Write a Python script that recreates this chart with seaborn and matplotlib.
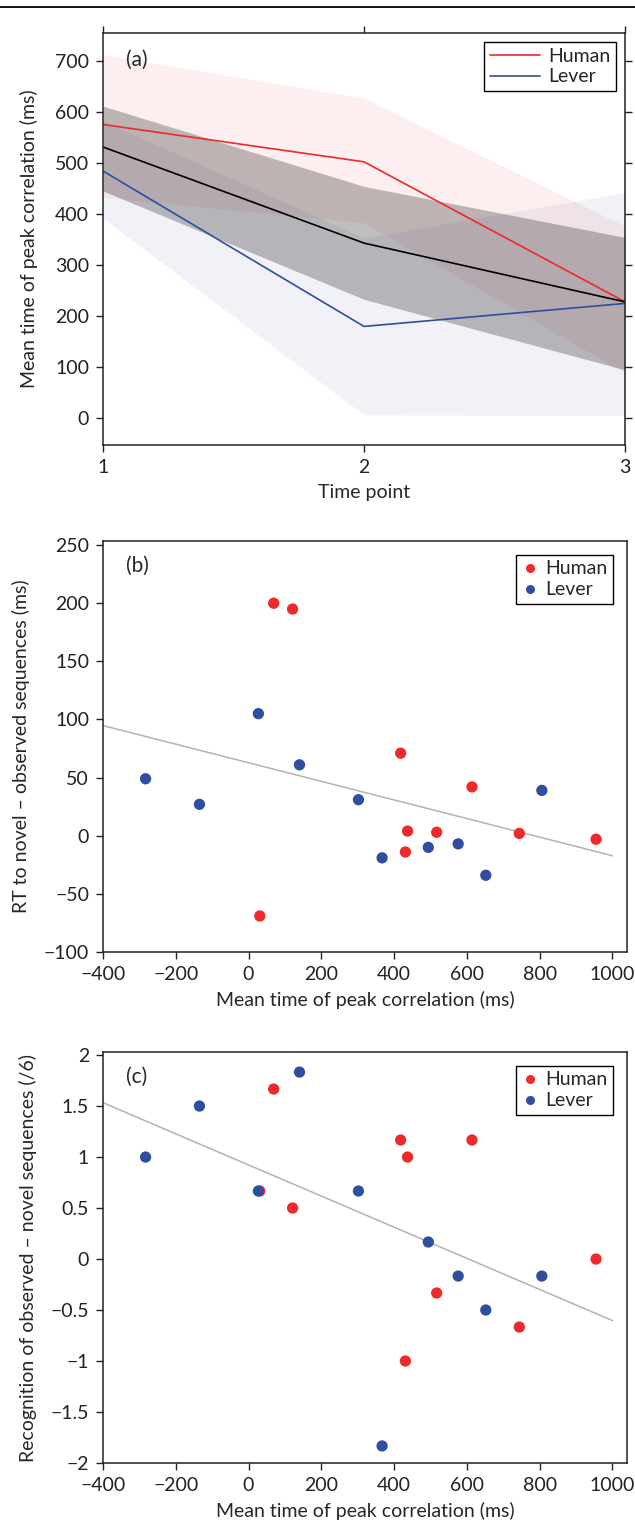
import numpy as np
import pandas as pd
import matplotlib
matplotlib.use("Agg")
import matplotlib.pyplot as plt
from matplotlib.lines import Line2D
import seaborn as sns

sns.set_theme(style="white")
plt.rcParams['font.family'] = ['Lato', 'DejaVu Sans']
plt.rcParams['axes.unicode_minus'] = True

# ---------------- Data ----------------
time_points = [1, 2, 3]
human_mean = [575, 502, 228]
human_upper = [712, 627, 376]
human_lower = [433, 383, 89]
lever_mean = [484, 180, 225]
lever_upper = [582, 353, 442]
lever_lower = [391, 7, 6]
all_mean = [531, 343, 228]
all_upper = [611, 454, 354]
all_lower = [445, 233, 95]

human_peak = [69, 121, 418, 614, 437, 517, 431, 744, 955, 31]
human_rt = [200, 195, 71, 42, 4, 3, -14, 2, -3, -69]
human_recog = [1.667, 0.5, 1.167, 1.167, 1.0, -0.333, -1.0, -0.667, 0.0, 0.667]

lever_peak = [-283, -135, 27, 140, 302, 367, 494, 576, 652, 806]
lever_rt = [49, 27, 105, 61, 31, -19, -10, -7, -34, 39]
lever_recog = [1.0, 1.5, 0.667, 1.833, 0.667, -1.833, 0.167, -0.167, -0.5, -0.167]

groups = ["Human", "Lever"]
RED = "#ee2a2a"
BLUE = "#2f4ea0"
palette = {"Human": RED, "Lever": BLUE}

scatter_df = pd.DataFrame({
    "peak": human_peak + lever_peak,
    "rt": human_rt + lever_rt,
    "recog": human_recog + lever_recog,
    "group": ["Human"] * len(human_peak) + ["Lever"] * len(lever_peak),
})

# ---------------- Figure ----------------
W, H = 635, 1525
fig = plt.figure(figsize=(W / 100, H / 100), dpi=100)

def frac_axes(left_px, top_px, right_px, bottom_px):
    return fig.add_axes([left_px / W, 1 - bottom_px / H,
                         (right_px - left_px) / W, (bottom_px - top_px) / H])

axA = frac_axes(103, 33, 625, 445)
axB = frac_axes(103, 541, 627, 952)
axC = frac_axes(103, 1052, 627, 1463)

# separator line at top
fig.add_artist(Line2D([0, 1], [1 - 7 / H, 1 - 7 / H], color="black", lw=1.3,
                      transform=fig.transFigure))

FS = 14
TAG_FS = 15

def style_axes(ax, mirror=False):
    for s in ax.spines.values():
        s.set_visible(True)
        s.set_color("#222222")
        s.set_linewidth(1.1)
    ax.tick_params(direction="out", length=5, width=1, colors="#222222",
                   labelsize=FS, pad=5,
                   top=mirror, right=mirror, bottom=True, left=True)
    ax.grid(False)

# ---------------- Panel (a) ----------------
axA.fill_between(time_points, human_lower, human_upper, color=RED, alpha=0.075, lw=0)
axA.fill_between(time_points, lever_lower, lever_upper, color="#3a3aa0", alpha=0.07, lw=0)
axA.fill_between(time_points, all_lower, all_upper, color="black", alpha=0.25, lw=0)
sns.lineplot(x=time_points, y=human_mean, ax=axA, color=RED, lw=1.2, label="Human")
sns.lineplot(x=time_points, y=lever_mean, ax=axA, color=BLUE, lw=1.2, label="Lever")
sns.lineplot(x=time_points, y=all_mean, ax=axA, color="black", lw=1.2)
axA.set_xlim(1, 3)
axA.set_ylim(-52, 754)
axA.set_xticks([1, 2, 3])
axA.set_yticks(range(0, 701, 100))
axA.set_xlabel("Time point", fontsize=FS, labelpad=6)
axA.set_ylabel("Mean time of peak correlation (ms)", fontsize=FS, labelpad=12)
style_axes(axA, mirror=True)
axA.text(0.044, 0.934, "(a)", transform=axA.transAxes, fontsize=TAG_FS,
         ha="left", va="center")
legA = axA.legend(loc="upper right", fontsize=FS, frameon=True, fancybox=False,
                  edgecolor="black", framealpha=1, borderaxespad=0.45,
                  handlelength=2.6, handletextpad=0.4, borderpad=0.3,
                  labelspacing=0.2)
legA.get_frame().set_linewidth(1.0)

# ---------------- Panel (b) & (c) ----------------
def scatter_panel(ax, ycol, ylim, yticks, ylabel, tag, reg_end):
    ax.set_xlim(-400, reg_end)
    sns.regplot(data=scatter_df, x="peak", y=ycol, ax=ax, scatter=False, ci=None,
                truncate=False, line_kws=dict(color="#b3b3b3", lw=1.1))
    sns.scatterplot(data=scatter_df, x="peak", y=ycol, hue="group",
                    hue_order=groups, palette=palette, ax=ax, s=66,
                    edgecolor="none", zorder=3)
    ax.set_xlim(-400, 1040)
    ax.set_ylim(*ylim)
    ax.set_xticks(range(-400, 1001, 200))
    ax.set_yticks(yticks)
    ax.set_xlabel("Mean time of peak correlation (ms)", fontsize=FS, labelpad=6)
    ax.set_ylabel(ylabel, fontsize=FS, labelpad=10)
    style_axes(ax, mirror=False)
    ax.text(0.044, 0.94, tag, transform=ax.transAxes, fontsize=TAG_FS,
            ha="left", va="center")
    leg = ax.legend(loc="upper right", fontsize=FS, frameon=True, fancybox=False,
                    edgecolor="black", framealpha=1, borderaxespad=0.7,
                    handlelength=0.8, handletextpad=0.4, borderpad=0.3,
                    labelspacing=0.2, markerscale=0.8)
    leg.get_frame().set_linewidth(1.0)

scatter_panel(axB, "rt", (-100, 253.5), list(range(-100, 251, 50)),
              "RT to novel \u2013 observed sequences (ms)", "(b)", 1000)
scatter_panel(axC, "recog", (-2, 2.03), list(np.arange(-2, 2.01, 0.5)),
              "Recognition of observed \u2013 novel sequences (/6)", "(c)", 1000)
axC.set_yticklabels(["\u22122", "\u22121.5", "\u22121", "\u22120.5", "0",
                     "0.5", "1", "1.5", "2"])

fig.savefig("out.png", dpi=100)
